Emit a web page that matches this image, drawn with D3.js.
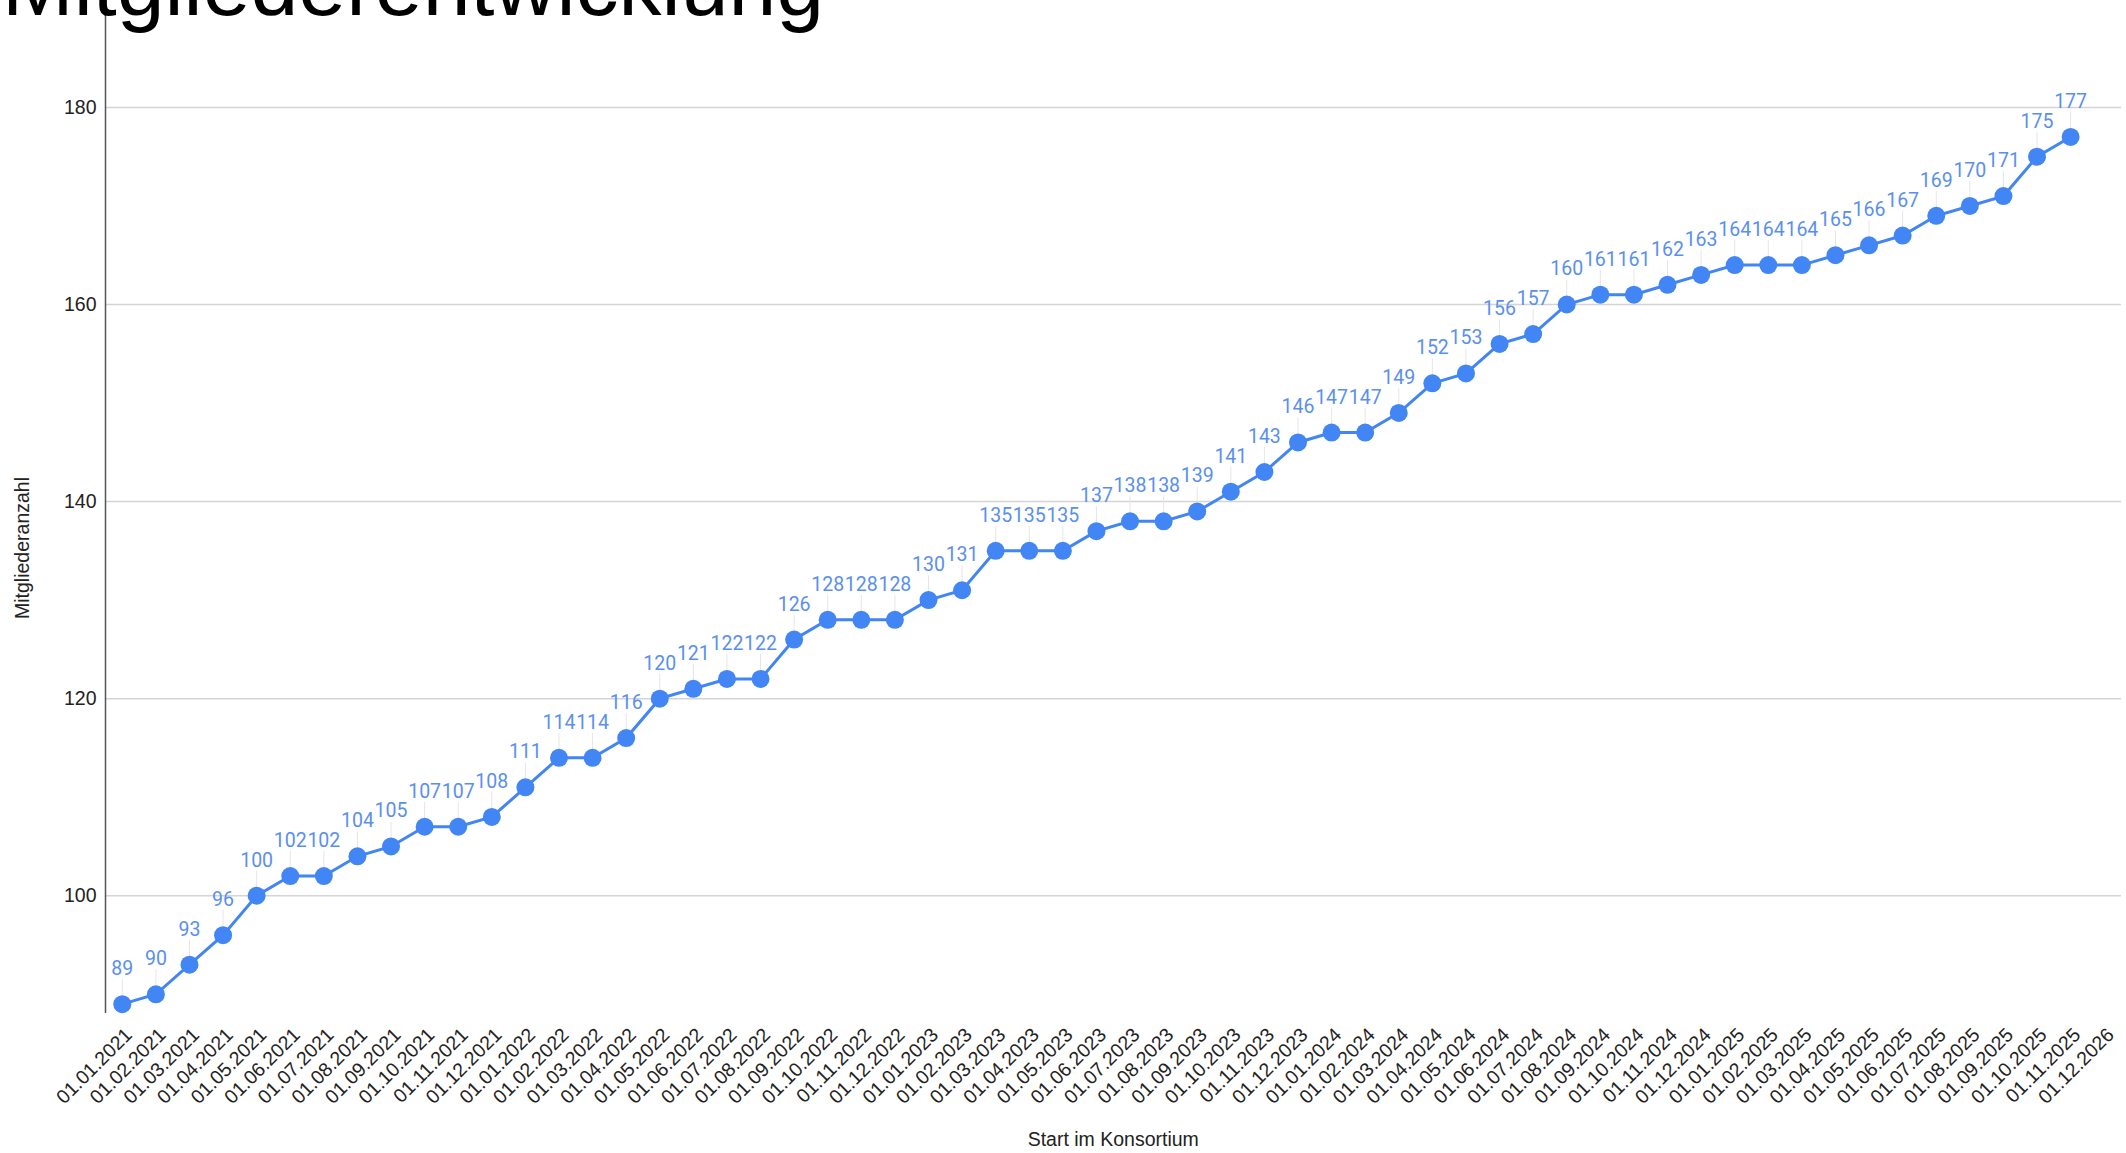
<!DOCTYPE html>
<html>
<head>
<meta charset="utf-8">
<script src="https://cdn.jsdelivr.net/npm/d3@7/dist/d3.min.js"></script>
<style>
  html, body { margin: 0; padding: 0; background: #fff; }
  svg { display: block; }
</style>
</head>
<body>
<svg id="chart" width="2126" height="1153"></svg>
<script>
const categories = [
  "01.01.2021","01.02.2021","01.03.2021","01.04.2021","01.05.2021","01.06.2021",
  "01.07.2021","01.08.2021","01.09.2021","01.10.2021","01.11.2021","01.12.2021",
  "01.01.2022","01.02.2022","01.03.2022","01.04.2022","01.05.2022","01.06.2022",
  "01.07.2022","01.08.2022","01.09.2022","01.10.2022","01.11.2022","01.12.2022",
  "01.01.2023","01.02.2023","01.03.2023","01.04.2023","01.05.2023","01.06.2023",
  "01.07.2023","01.08.2023","01.09.2023","01.10.2023","01.11.2023","01.12.2023",
  "01.01.2024","01.02.2024","01.03.2024","01.04.2024","01.05.2024","01.06.2024",
  "01.07.2024","01.08.2024","01.09.2024","01.10.2024","01.11.2024","01.12.2024",
  "01.01.2025","01.02.2025","01.03.2025","01.04.2025","01.05.2025","01.06.2025",
  "01.07.2025","01.08.2025","01.09.2025","01.10.2025","01.11.2025","01.12.2026"
];
const members = [
  89, 90, 93, 96, 100, 102, 102, 104, 105, 107, 107, 108,
  111, 114, 114, 116, 120, 121, 122, 122, 126, 128, 128, 128,
  130, 131, 135, 135, 135, 137, 138, 138, 139, 141, 143, 146,
  147, 147, 149, 152, 153, 156, 157, 160, 161, 161, 162, 163,
  164, 164, 164, 165, 166, 167, 169, 170, 171, 175, 177, null
];
const yTicks = [100, 120, 140, 160, 180];
const yDomain = [88.1, 190.9];
const titleText = "Mitgliederentwicklung";
const xTitle = "Start im Konsortium";
const yTitle = "Mitgliederanzahl";

const svg = d3.select("#chart");
const plot = { left: 105.5, right: 2121, top: 0, bottom: 1013 };
const FS = 19.5;

const x = d3.scaleBand().domain(categories).range([plot.left, plot.right]).paddingInner(0).paddingOuter(0);
const y = d3.scaleLinear().domain(yDomain).range([plot.bottom, plot.top]);
const cx = c => x(c) + x.bandwidth() / 2;

const data = categories.map((c, i) => ({ c, v: members[i] })).filter(d => d.v != null);

// gridlines
svg.append("g")
  .selectAll("line").data(yTicks).join("line")
  .attr("x1", plot.left).attr("x2", plot.right)
  .attr("y1", d => y(d)).attr("y2", d => y(d))
  .attr("stroke", "#d4d4d4").attr("stroke-width", 1.5);

// y axis labels
const yAxis = svg.append("g")
  .attr("transform", `translate(${plot.left},0)`)
  .call(d3.axisLeft(y).tickValues(yTicks).tickSize(0).tickPadding(9));
yAxis.select(".domain").remove();
yAxis.selectAll("text")
  .attr("font-family", "Liberation Sans, Arial, sans-serif")
  .attr("font-size", FS).attr("fill", "#222");

// axis line
svg.append("line")
  .attr("x1", plot.left).attr("x2", plot.left)
  .attr("y1", plot.top).attr("y2", plot.bottom)
  .attr("stroke", "#555").attr("stroke-width", 1.5);

// x axis labels
const xAxis = svg.append("g")
  .attr("transform", `translate(0,${plot.bottom})`)
  .call(d3.axisBottom(x).tickSize(0).tickPadding(0));
xAxis.select(".domain").remove();
xAxis.selectAll("text")
  .attr("font-family", "Liberation Sans, Arial, sans-serif")
  .attr("font-size", FS).attr("fill", "#222")
  .attr("text-anchor", "end")
  .attr("dy", 0).attr("y", 0)
  .attr("transform", "translate(11,23) rotate(-45)");

// title
svg.append("text")
  .attr("x", 2).attr("y", 15)
  .attr("font-family", "Liberation Sans, Arial, sans-serif")
  .attr("font-size", 86).attr("fill", "#000")
  .text(titleText);

// axis titles
svg.append("text")
  .attr("x", (plot.left + plot.right) / 2).attr("y", 1146)
  .attr("text-anchor", "middle")
  .attr("font-family", "Liberation Sans, Arial, sans-serif")
  .attr("font-size", FS).attr("fill", "#222")
  .text(xTitle);
svg.append("text")
  .attr("transform", `translate(29,548) rotate(-90)`)
  .attr("text-anchor", "middle")
  .attr("font-family", "Liberation Sans, Arial, sans-serif")
  .attr("font-size", FS).attr("fill", "#222")
  .text(yTitle);

// leader lines
svg.append("g").selectAll("line").data(data).join("line")
  .attr("x1", d => cx(d.c)).attr("x2", d => cx(d.c))
  .attr("y1", d => y(d.v) - 25).attr("y2", d => y(d.v) - 9)
  .attr("stroke", "#e6e6e6").attr("stroke-width", 1);

// line
svg.append("path").datum(data)
  .attr("fill", "none").attr("stroke", "#4285f4").attr("stroke-width", 3)
  .attr("d", d3.line().x(d => cx(d.c)).y(d => y(d.v)));

// points
svg.append("g").selectAll("circle").data(data).join("circle")
  .attr("cx", d => cx(d.c)).attr("cy", d => y(d.v)).attr("r", 9)
  .attr("fill", "#4285f4");

// data labels
svg.append("g").selectAll("text").data(data).join("text")
  .attr("x", d => cx(d.c)).attr("y", d => y(d.v) - 29)
  .attr("text-anchor", "middle")
  .attr("font-family", "Roboto, sans-serif")
  .attr("font-size", FS).attr("fill", "#5a8ff0")
  .text(d => d.v);
</script>
</body>
</html>
